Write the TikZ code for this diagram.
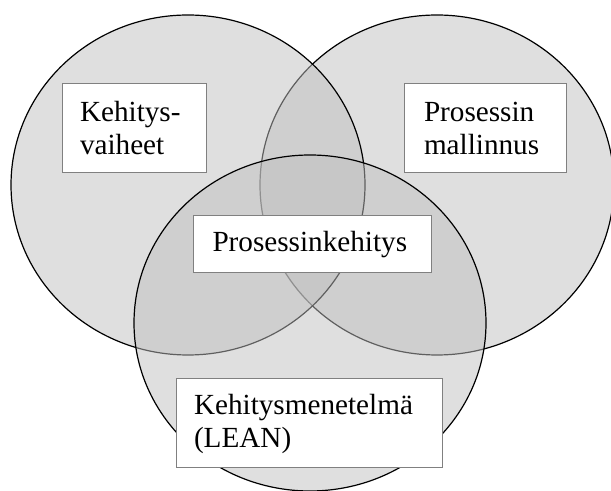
\documentclass[tikz,border=0pt]{standalone}
\usepackage{fontspec}
\setmainfont{Liberation Serif}
\begin{document}
\begin{tikzpicture}[x=0.5pt, y=-0.5pt,
    piiri/.style={draw=black, line width=0.6pt, fill=black!25, fill opacity=0.5},
    laatikko/.style={draw=black!50, line width=0.5pt, fill=white, align=left,
        inner xsep=9pt, inner ysep=0pt, font=\fontsize{14.6}{16.5}\selectfont}]
        \useasboundingbox (0,0) rectangle (611,491);
        % ympyrät
        \draw[piiri] (437,185) ellipse [x radius=88.5pt, y radius=85pt];
        \draw[piiri] (188,185) ellipse [x radius=88.5pt, y radius=85pt];
        \draw[piiri] (310,323) ellipse [x radius=88pt, y radius=84pt];
        % tekstilaatikot
        \node[laatikko, text width=54pt, minimum height=44.5pt] (vaiheet) at (134,128.5) {Kehitys-\\vaiheet};
        \node[laatikko, text width=61pt, minimum height=44.5pt, inner xsep=10pt] (mallinnus) at (485,128.5) {Prosessin\\mallinnus};
        \node[laatikko, text width=100pt, minimum height=28.5pt, inner xsep=9.5pt] (kehitys) at (312.5,244.5) {Prosessinkehitys};
        \node[laatikko, text width=115pt, minimum height=44.5pt] (lean) at (309,423.5) {Kehitysmenetelmä\\(LEAN)};
    \end{tikzpicture}
\end{document}
